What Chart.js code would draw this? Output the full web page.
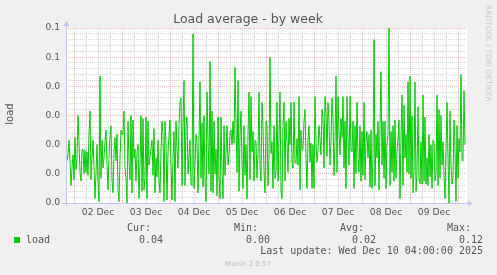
<!DOCTYPE html>
<html>
<head>
<meta charset="utf-8">
<title>Load average - by week</title>
<script src="https://cdn.jsdelivr.net/npm/chart.js@4/dist/chart.umd.min.js"></script>
<style>
  html, body { margin: 0; padding: 0; background: #f0f0f0; }
  #wrap { width: 497px; height: 275px; }
</style>
</head>
<body>
<div id="wrap"><canvas id="loadChart" width="497" height="275"></canvas></div>
<script>
// Load average, one sample every 30 min (hours counted from 02 Dec 00:00)
const START_HOUR = -3.5;
const STEP_HOURS = 0.5;
const loadValues = [
  // 01 Dec evening - 02 Dec
  0.029,0.033,0.043,0.028,0.012,0.024,0.033,0.016,0.045,0.023,0.031,0.060,0.042,0.021,0.015,0.036,
  0.037,0.020,0.036,0.021,0.035,0.019,0.047,0.063,0.016,0.031,0.043,0.024,0.003,0.021,0.040,0.015,
  0.001,0.087,0.017,0.043,0.024,0.031,0.042,0.050,0.026,0.009,0.031,0.047,0.053,0.015,0.007,0.035,
  0.045,0.029,0.047,0.009,0.001,0.031,0.050,0.047,
  // 03 Dec
  0.047,0.063,0.024,0.017,0.000,0.056,0.029,0.016,0.060,0.007,0.057,0.031,0.037,0.015,0.034,0.040,
  0.003,0.028,0.060,0.008,0.058,0.009,0.017,0.059,0.003,0.056,0.026,0.032,0.037,0.043,0.019,0.051,
  0.007,0.031,0.018,0.043,0.015,0.007,0.035,0.056,0.047,0.001,0.056,0.041,0.002,0.035,0.047,0.057,
  0.026,0.002,0.031,0.049,0.001,0.056,0.037,0.024,
  // 04 Dec
  0.053,0.069,0.072,0.012,0.053,0.084,0.012,0.053,0.059,0.020,0.031,0.043,0.013,0.012,0.116,0.010,
  0.026,0.047,0.042,0.007,0.043,0.083,0.017,0.055,0.011,0.060,0.016,0.001,0.076,0.042,0.020,0.097,
  0.008,0.063,0.007,0.056,0.020,0.037,0.005,0.059,0.019,0.003,0.059,0.021,0.003,0.053,0.019,0.035,
  0.053,0.026,0.033,0.049,0.050,0.040,0.056,0.041,0.093,0.053,
  // 05 Dec
  0.021,0.084,0.008,0.047,0.063,0.026,0.010,0.053,0.019,0.040,0.003,0.047,0.076,0.016,0.073,0.035,
  0.049,0.015,0.043,0.042,0.017,0.034,0.076,0.024,0.015,0.069,0.053,0.021,0.007,0.056,0.053,0.012,
  0.031,0.100,0.034,0.042,0.010,0.053,0.017,0.021,0.069,0.015,0.044,0.076,0.008,0.003,0.053,0.069,
  0.015,0.056,0.042,0.021,0.058,0.040,0.069,0.028,0.024,0.069,
  // 06 Dec
  0.028,0.027,0.044,0.026,0.073,0.009,0.050,0.036,0.037,0.056,0.064,0.031,0.010,0.044,0.053,0.028,
  0.041,0.010,0.040,0.010,0.073,0.042,0.028,0.036,0.053,0.044,0.033,0.064,0.059,0.024,0.073,0.061,
  0.032,0.069,0.056,0.026,0.042,0.072,0.058,0.019,0.042,0.087,0.021,0.073,0.049,0.033,0.058,0.045,
  0.073,0.024,0.056,0.010,0.073,0.043,0.026,0.073,0.036,0.035,
  // 07 Dec
  0.056,0.010,0.053,0.020,0.069,0.031,0.021,0.053,0.015,0.049,0.019,0.069,0.016,0.044,0.049,0.031,
  0.047,0.011,0.050,0.010,0.031,0.112,0.012,0.047,0.031,0.056,0.009,0.053,0.090,0.026,0.056,0.017,
  0.056,0.010,0.040,0.047,0.120,0.012,0.049,0.021,0.053,0.015,0.057,0.017,0.035,0.044,0.057,0.003,
  0.044,0.074,0.012,0.067,0.031,0.047,0.021,0.083,0.020,0.087,
  // 08 Dec - 10 Dec 04:00
  0.017,0.060,0.007,0.021,0.083,0.008,0.021,0.066,0.017,0.013,0.042,0.013,0.074,0.015,0.059,0.013,
  0.031,0.012,0.047,0.018,0.040,0.010,0.043,0.041,0.015,0.021,0.074,0.012,0.064,0.017,0.060,0.026,
  0.042,0.019,0.003,0.037,0.069,0.031,0.000,0.063,0.026,0.013,0.017,0.057,0.036,0.001,0.053,0.017,
  0.044,0.035,0.088,0.029,0.029,0.077,0.040
];

const dayLabels = ['02 Dec', '03 Dec', '04 Dec', '05 Dec', '06 Dec', '07 Dec', '08 Dec', '09 Dec'];
const yTickLabels = ['0.0', '0.0', '0.0', '0.0', '0.0', '0.1', '0.1'];
const statNames = ['Cur:', 'Min:', 'Avg:', 'Max:'];
const statValues = [0.04, 0.00, 0.02, 0.12];
const seriesName = 'load';
const lastUpdate = 'Last update: Wed Dec 10 04:00:00 2025';

const LINE_GREEN = '#00cc00';
const GRID_GREY = 'rgba(150, 150, 150, 0.4)';
const GRID_RED = 'rgba(230, 90, 90, 0.45)';
const AXIS_COLOR = '#c4c4ee';
const TEXT_COLOR = '#555555';

const points = loadValues.map((v, i) => ({ x: START_HOUR + i * STEP_HOURS, y: v }));

// Title, axis arrows, legend and watermarks in the rrdtool style
const muninDecor = {
  id: 'muninDecor',
  beforeDraw(chart) {
    const { ctx, chartArea: a } = chart;
    ctx.save();
    ctx.fillStyle = '#ffffff';
    ctx.fillRect(a.left, a.top, a.right - a.left + 1, a.bottom - a.top);
    ctx.restore();
  },
  afterDraw(chart) {
    const { ctx, chartArea: a } = chart;
    ctx.save();

    // axes with arrows
    ctx.strokeStyle = AXIS_COLOR;
    ctx.fillStyle = AXIS_COLOR;
    ctx.lineWidth = 1;
    ctx.beginPath();
    ctx.moveTo(a.left + 0.5, a.bottom + 3);
    ctx.lineTo(a.left + 0.5, a.top - 3);
    ctx.moveTo(a.left - 4, a.bottom + 0.5);
    ctx.lineTo(a.right + 3, a.bottom + 0.5);
    ctx.stroke();
    ctx.beginPath();
    ctx.moveTo(a.left + 0.5, a.top - 7);
    ctx.lineTo(a.left - 2.5, a.top - 2);
    ctx.lineTo(a.left + 3.5, a.top - 2);
    ctx.closePath();
    ctx.fill();
    ctx.beginPath();
    ctx.moveTo(a.right + 7, a.bottom + 0.5);
    ctx.lineTo(a.right + 2, a.bottom - 2.5);
    ctx.lineTo(a.right + 2, a.bottom + 3.5);
    ctx.closePath();
    ctx.fill();

    // title
    ctx.fillStyle = TEXT_COLOR;
    ctx.font = '12.5px "DejaVu Sans"';
    ctx.textAlign = 'center';
    ctx.textBaseline = 'middle';
    ctx.fillText('Load average - by week', 248, 19.5);

    // y axis title
    ctx.save();
    ctx.translate(10, 114);
    ctx.rotate(-Math.PI / 2);
    ctx.font = '10px "DejaVu Sans"';
    ctx.fillText(seriesName, 0, 0);
    ctx.restore();

    // rrdtool watermark
    ctx.save();
    ctx.translate(487.5, 5);
    ctx.rotate(Math.PI / 2);
    ctx.textAlign = 'left';
    ctx.font = '7.5px "DejaVu Sans"';
    ctx.fillStyle = '#c8c8c8';
    ctx.fillText('RRDTOOL / TOBI OETIKER', 0, 0);
    ctx.restore();

    // legend
    const statX = [127, 234, 340, 447];
    const valX = [139, 246, 352, 459];
    ctx.font = '10px "DejaVu Sans Mono"';
    ctx.textAlign = 'left';
    ctx.fillStyle = TEXT_COLOR;
    statNames.forEach((n, i) => ctx.fillText(n, statX[i], 228.5));
    statValues.forEach((v, i) => ctx.fillText(v.toFixed(2), valX[i], 240));
    ctx.fillText(seriesName, 26, 240);
    ctx.fillStyle = LINE_GREEN;
    ctx.fillRect(14, 237, 6, 6);
    ctx.fillStyle = TEXT_COLOR;
    ctx.textAlign = 'right';
    ctx.fillText(lastUpdate, 483, 251.5);

    ctx.textAlign = 'center';
    ctx.font = '7px "DejaVu Sans"';
    ctx.fillStyle = '#b8b8b8';
    ctx.fillText('Munin 2.0.57', 248, 264.5);

    ctx.restore();
  }
};

new Chart(document.getElementById('loadChart'), {
  type: 'line',
  data: {
    datasets: [{
      label: seriesName,
      data: points,
      borderColor: LINE_GREEN,
      borderWidth: 1,
      pointRadius: 0,
      tension: 0,
      fill: false
    }]
  },
  options: {
    responsive: false,
    animation: false,
    parsing: false,
    layout: { padding: { top: 28, right: 31, bottom: 0, left: 0 } },
    plugins: {
      legend: { display: false },
      tooltip: { enabled: false },
      title: { display: false }
    },
    scales: {
      x: {
        type: 'linear',
        min: -4,
        max: 196,
        afterFit(scale) { scale.height = 72; },
        afterBuildTicks(scale) {
          const ticks = [];
          for (let h = 0; h <= 192; h += 6) ticks.push({ value: h });
          scale.ticks = ticks;
        },
        grid: {
          drawTicks: false,
          color: ctx => (ctx.tick && ctx.tick.value % 24 === 0 ? GRID_RED : GRID_GREY)
        },
        border: { display: false, dash: [1, 1] },
        ticks: {
          autoSkip: false,
          maxRotation: 0,
          padding: 4,
          color: TEXT_COLOR,
          font: { family: 'DejaVu Sans', size: 9.2 },
          callback: value => (value % 24 === 12 ? dayLabels[(value - 12) / 24] : '')
        }
      },
      y: {
        min: 0,
        max: 0.12,
        afterFit(scale) { scale.width = 66; },
        afterBuildTicks(scale) {
          const ticks = [];
          for (let i = 0; i <= 30; i++) ticks.push({ value: i * 0.004 });
          scale.ticks = ticks;
        },
        grid: {
          drawTicks: false,
          color: ctx => (ctx.index % 5 === 0 ? GRID_RED : GRID_GREY)
        },
        border: { display: false, dash: [1, 1] },
        ticks: {
          autoSkip: false,
          padding: 6,
          color: TEXT_COLOR,
          font: { family: 'DejaVu Sans', size: 9.2 },
          callback: (value, index) => (index % 5 === 0 ? yTickLabels[index / 5] : '')
        }
      }
    }
  },
  plugins: [muninDecor]
});
</script>
</body>
</html>
